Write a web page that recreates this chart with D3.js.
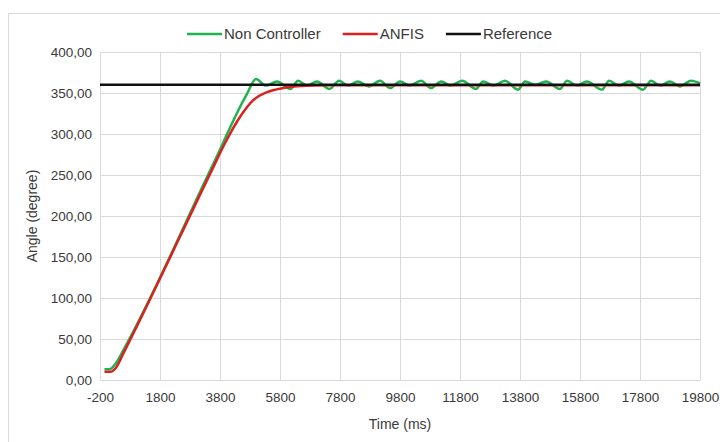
<!DOCTYPE html>
<html>
<head>
<meta charset="utf-8">
<script src="https://cdn.jsdelivr.net/npm/d3@7"></script>
<style>
  body { margin: 0; background: #fff; }
  svg text { font-family: "Liberation Sans", Arial, sans-serif; fill: #3a3a3a; }
</style>
</head>
<body>
<svg id="chart"></svg>
<script>
// tick values
var timeTicks = [-200, 1800, 3800, 5800, 7800, 9800, 11800, 13800, 15800, 17800, 19800];
var angleTicks = [0, 50, 100, 150, 200, 250, 300, 350, 400];

// series (time in ms, angle in degree)
var nonControllerTime = [-50, 120, 320, 600, 3530, 4700, 5000, 5330, 5700, 6150, 6400, 6700, 7030, 7450, 7770, 8070, 8400, 8770, 9130, 9470, 9800, 10130, 10500, 10830, 11170, 11500, 11870, 12330, 12570, 12930, 13300, 13730, 13970, 14300, 14670, 15130, 15370, 15700, 16030, 16530, 16770, 17100, 17430, 17900, 18170, 18470, 18800, 19130, 19500, 19800];
var nonControllerAngle = [13, 13, 20, 38, 260, 349, 367, 359, 364, 355, 365, 359, 364, 355, 365, 359, 364, 358, 365, 356, 364, 359, 365, 356, 364, 359, 365, 355, 364, 359, 365, 354, 364, 360, 364, 355, 365, 359, 364, 354, 365, 359, 364, 354, 365, 359, 364, 358, 365, 362];

var anfisTime = [-50, 150, 350, 600, 3530, 3970, 4470, 4900, 5370, 5900, 6470, 7470, 19800];
var anfisAngle = [10, 10, 16, 34, 256, 289, 321, 341, 351, 356, 358.5, 359.5, 359.5];

var referenceTime = [-200, 19800];
var referenceAngle = [360, 360];

var seriesNames = ["Non Controller", "ANFIS", "Reference"];
var seriesColors = ["#1fb24f", "#dc1f1f", "#111111"];

var W = 720, H = 442;
var m = { left: 100, right: 20, top: 52, bottom: 62 };

var svg = d3.select("#chart").attr("width", W).attr("height", H);

// outer chart border
svg.append("rect")
  .attr("x", 8.5).attr("y", 13.5)
  .attr("width", W).attr("height", H)
  .attr("fill", "none").attr("stroke", "#d9d9d9");

var x = d3.scaleLinear().domain([-200, 19800]).range([m.left, W - m.right]);
var y = d3.scaleLinear().domain([0, 400]).range([H - m.bottom, m.top]);

var fmt = d3.formatLocale({ decimal: ",", thousands: ".", grouping: [3], currency: ["", ""] }).format(".2f");

// gridlines
svg.append("g").selectAll("line").data(angleTicks).enter().append("line")
  .attr("x1", m.left).attr("x2", W - m.right)
  .attr("y1", function(d) { return Math.round(y(d)) + 0.5; })
  .attr("y2", function(d) { return Math.round(y(d)) + 0.5; })
  .attr("stroke", "#d9d9d9");
svg.append("g").selectAll("line").data(timeTicks).enter().append("line")
  .attr("y1", m.top).attr("y2", H - m.bottom)
  .attr("x1", function(d) { return Math.round(x(d)) + 0.5; })
  .attr("x2", function(d) { return Math.round(x(d)) + 0.5; })
  .attr("stroke", "#d9d9d9");

// axes (labels only, Excel style)
var yAxis = svg.append("g").attr("transform", "translate(" + m.left + ",0)")
  .call(d3.axisLeft(y).tickValues(angleTicks).tickFormat(fmt).tickSize(0).tickPadding(8));
var xAxis = svg.append("g").attr("transform", "translate(0," + (H - m.bottom) + ")")
  .call(d3.axisBottom(x).tickValues(timeTicks).tickFormat(function(d) { return String(d); })
    .tickSize(0).tickPadding(12));
[xAxis, yAxis].forEach(function(a) {
  a.select(".domain").remove();
  a.selectAll("text").attr("font-size", 13.5).style("font-family", "Liberation Sans, Arial, sans-serif").attr("fill", "#3a3a3a");
});

// axis titles
svg.append("text")
  .attr("x", (m.left + W - m.right) / 2).attr("y", 429)
  .attr("text-anchor", "middle").attr("font-size", 14)
  .text("Time (ms)");
svg.append("text")
  .attr("transform", "translate(37," + ((m.top + H - m.bottom) / 2) + ") rotate(-90)")
  .attr("text-anchor", "middle").attr("font-size", 14)
  .text("Angle (degree)");

// lines
var line = d3.line()
  .x(function(d) { return x(d[0]); })
  .y(function(d) { return y(d[1]); })
  .curve(d3.curveMonotoneX);

var series = [
  d3.zip(nonControllerTime, nonControllerAngle),
  d3.zip(anfisTime, anfisAngle),
  d3.zip(referenceTime, referenceAngle)
];

svg.append("g").selectAll("path").data(series).enter().append("path")
  .attr("d", line)
  .attr("fill", "none")
  .attr("stroke", function(d, i) { return seriesColors[i]; })
  .attr("stroke-width", 2.5)
  .attr("stroke-linejoin", "round");

// legend
var legend = svg.append("g");
var lx = 187;
seriesNames.forEach(function(name, i) {
  var g = legend.append("g").attr("transform", "translate(" + lx + ",34)");
  g.append("line").attr("x1", 0).attr("x2", 35).attr("y1", 0).attr("y2", 0)
    .attr("stroke", seriesColors[i]).attr("stroke-width", 2.5);
  var t = g.append("text").attr("x", 37).attr("y", 5).attr("font-size", 15).text(name);
  lx += 37 + t.node().getComputedTextLength() + 22;
});
</script>
</body>
</html>
